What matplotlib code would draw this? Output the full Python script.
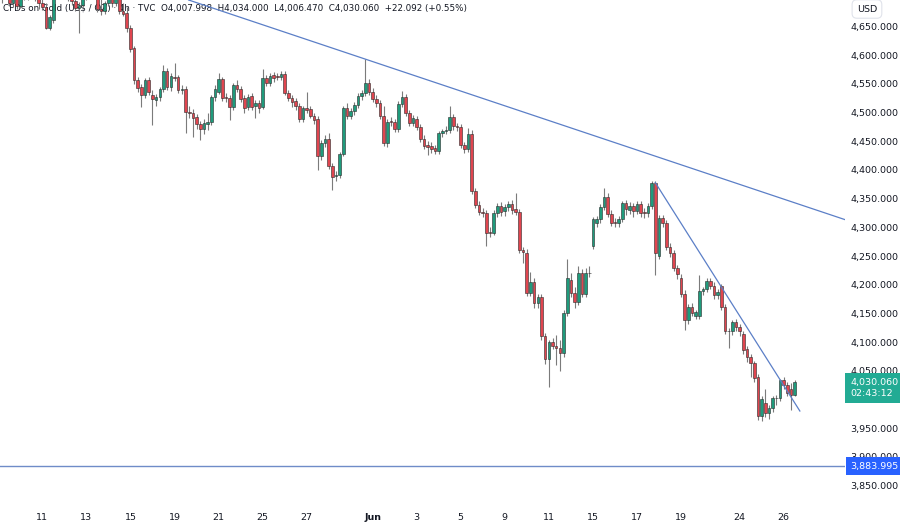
import numpy as np
import matplotlib
matplotlib.use("Agg")
import matplotlib.pyplot as plt
from matplotlib.transforms import blended_transform_factory

# 4h candles, CFDs on Gold (US$ / OZ): open, high, low, close
opens = [4700, 4706, 4701, 4690, 4700, 4686, 4710, 4700, 4712, 4705,
         4698, 4690, 4684, 4648, 4662, 4710, 4716, 4705, 4712, 4700,
         4694, 4682, 4688, 4700, 4715, 4708, 4702, 4680, 4676, 4690,
         4700, 4690, 4712, 4677, 4674, 4647, 4612, 4556, 4544, 4530,
         4556, 4530, 4522, 4527, 4541, 4572, 4544, 4562, 4561, 4539,
         4541, 4501, 4499, 4492, 4480, 4471, 4480, 4484, 4527, 4536,
         4558, 4527, 4525, 4509, 4548, 4541, 4525, 4509, 4529, 4511,
         4516, 4510, 4560, 4551, 4565, 4563, 4561, 4567, 4534, 4525,
         4520, 4511, 4489, 4508, 4506, 4494, 4489, 4424, 4447, 4454,
         4407, 4389, 4391, 4428, 4508, 4494, 4502, 4513, 4529, 4534,
         4551, 4536, 4523, 4516, 4494, 4447, 4485, 4483, 4471, 4515,
         4527, 4499, 4482, 4489, 4475, 4454, 4443, 4441, 4438, 4433,
         4464, 4468, 4469, 4492, 4476, 4474, 4443, 4436, 4462, 4363,
         4339, 4327, 4325, 4292, 4290, 4325, 4337, 4328, 4335, 4340,
         4332, 4327, 4260, 4255, 4185, 4205, 4168, 4178, 4110, 4070,
         4100, 4093, 4090, 4081, 4151, 4208, 4185, 4170, 4220, 4184,
         4220, 4267, 4307, 4314, 4335, 4352, 4323, 4309, 4307, 4314,
         4342, 4330, 4337, 4328, 4340, 4327, 4325, 4337, 4377, 4250,
         4316, 4307, 4266, 4255, 4229, 4212, 4184, 4138, 4161, 4145,
         4145, 4189, 4192, 4206, 4198, 4182, 4197, 4161, 4119, 4119,
         4135, 4126, 4114, 4088, 4074, 4063, 4039, 3971, 3994, 3976,
         3985, 4002, 4003, 4034, 4025, 4019, 4007.998]
highs = [4712, 4718, 4710, 4704, 4706, 4718, 4716, 4718, 4720, 4712,
         4706, 4700, 4690, 4670, 4722, 4724, 4722, 4718, 4716, 4708,
         4700, 4692, 4704, 4720, 4722, 4714, 4708, 4698, 4694, 4706,
         4708, 4718, 4716, 4690, 4684, 4652, 4616, 4562, 4550, 4560,
         4562, 4539, 4532, 4545, 4583, 4578, 4568, 4586, 4566, 4548,
         4546, 4512, 4506, 4498, 4486, 4488, 4500, 4530, 4548, 4569,
         4562, 4534, 4530, 4552, 4556, 4546, 4530, 4532, 4534, 4522,
         4522, 4576, 4566, 4568, 4570, 4568, 4572, 4572, 4540, 4530,
         4526, 4516, 4512, 4536, 4512, 4500, 4494, 4452, 4460, 4464,
         4412, 4398, 4432, 4512, 4516, 4508, 4518, 4534, 4540, 4593,
         4558, 4542, 4530, 4522, 4511, 4488, 4492, 4488, 4520, 4537,
         4532, 4504, 4496, 4494, 4480, 4460, 4450, 4448, 4444, 4468,
         4472, 4476, 4511, 4498, 4482, 4480, 4448, 4473, 4470, 4368,
         4346, 4334, 4330, 4300, 4330, 4342, 4344, 4340, 4346, 4348,
         4360, 4332, 4266, 4262, 4222, 4212, 4184, 4184, 4116, 4104,
         4108, 4112, 4104, 4156, 4245, 4220, 4196, 4232, 4228, 4230,
         4232, 4318, 4320, 4340, 4368, 4360, 4330, 4316, 4320, 4346,
         4348, 4344, 4342, 4346, 4346, 4334, 4342, 4381, 4380, 4322,
         4322, 4312, 4272, 4260, 4234, 4218, 4190, 4166, 4168, 4156,
         4217, 4196, 4212, 4212, 4204, 4192, 4202, 4166, 4124, 4138,
         4140, 4132, 4120, 4094, 4080, 4068, 4044, 4006, 4018, 3990,
         4006, 4008, 4036, 4040, 4030, 4028, 4034.0]
lows = [4690, 4698, 4686, 4684, 4680, 4682, 4696, 4696, 4702, 4694,
        4680, 4678, 4645, 4644, 4656, 4702, 4698, 4700, 4694, 4688,
        4676, 4638, 4684, 4696, 4702, 4698, 4675, 4670, 4672, 4686,
        4684, 4686, 4672, 4668, 4640, 4605, 4550, 4536, 4509, 4526,
        4530, 4478, 4512, 4520, 4536, 4540, 4538, 4555, 4534, 4532,
        4464, 4490, 4457, 4472, 4452, 4462, 4470, 4478, 4520, 4532,
        4520, 4518, 4487, 4504, 4536, 4518, 4500, 4504, 4504, 4490,
        4500, 4506, 4546, 4546, 4554, 4556, 4556, 4530, 4520, 4510,
        4504, 4484, 4484, 4500, 4490, 4480, 4400, 4418, 4440, 4402,
        4365, 4380, 4386, 4424, 4488, 4488, 4496, 4508, 4522, 4528,
        4530, 4518, 4510, 4488, 4442, 4440, 4476, 4466, 4466, 4510,
        4494, 4476, 4476, 4470, 4448, 4436, 4426, 4430, 4428, 4428,
        4458, 4462, 4464, 4470, 4468, 4438, 4430, 4432, 4358, 4334,
        4322, 4318, 4267, 4284, 4286, 4318, 4320, 4320, 4328, 4324,
        4322, 4255, 4238, 4180, 4180, 4160, 4160, 4104, 4062, 4022,
        4088, 4060, 4050, 4074, 4146, 4178, 4160, 4164, 4178, 4178,
        4214, 4262, 4300, 4308, 4330, 4318, 4302, 4300, 4300, 4310,
        4322, 4324, 4318, 4324, 4318, 4316, 4318, 4332, 4217, 4244,
        4300, 4260, 4248, 4224, 4210, 4178, 4121, 4132, 4146, 4140,
        4140, 4182, 4188, 4192, 4176, 4176, 4156, 4114, 4090, 4112,
        4120, 4110, 4080, 4066, 4040, 4030, 3964, 3962, 3970, 3966,
        3978, 3990, 3998, 4018, 4006, 3982, 4006.47]
closes = [4706, 4701, 4690, 4700, 4686, 4710, 4700, 4712, 4705, 4698,
          4690, 4684, 4648, 4666, 4710, 4716, 4705, 4712, 4700, 4694,
          4682, 4688, 4700, 4715, 4708, 4702, 4680, 4676, 4690, 4700,
          4690, 4712, 4676, 4672, 4647, 4610, 4556, 4542, 4530, 4556,
          4536, 4523, 4527, 4541, 4572, 4544, 4563, 4560, 4539, 4541,
          4501, 4499, 4490, 4480, 4471, 4482, 4484, 4527, 4541, 4558,
          4525, 4525, 4509, 4548, 4541, 4523, 4508, 4527, 4509, 4516,
          4508, 4560, 4551, 4563, 4560, 4561, 4567, 4534, 4525, 4518,
          4511, 4489, 4508, 4504, 4494, 4487, 4424, 4447, 4454, 4407,
          4387, 4391, 4428, 4508, 4494, 4502, 4513, 4529, 4534, 4551,
          4536, 4523, 4516, 4494, 4447, 4483, 4483, 4471, 4515, 4527,
          4499, 4482, 4490, 4475, 4454, 4441, 4440, 4436, 4433, 4464,
          4468, 4470, 4492, 4476, 4474, 4443, 4436, 4462, 4363, 4339,
          4327, 4325, 4290, 4290, 4325, 4337, 4327, 4335, 4340, 4330,
          4327, 4260, 4257, 4185, 4205, 4168, 4178, 4110, 4070, 4100,
          4093, 4090, 4081, 4151, 4212, 4185, 4170, 4220, 4184, 4220,
          4221, 4314, 4314, 4335, 4352, 4323, 4307, 4307, 4314, 4342,
          4332, 4337, 4328, 4340, 4325, 4325, 4337, 4377, 4255, 4316,
          4307, 4266, 4255, 4229, 4218, 4184, 4138, 4161, 4151, 4152,
          4189, 4192, 4206, 4198, 4182, 4187, 4161, 4119, 4119, 4135,
          4126, 4119, 4086, 4074, 4063, 4037, 3971, 4001, 3976, 3985,
          4002, 4003, 4034, 4025, 4012, 4008, 4030.06]

# date axis: candle index of each day label
date_ticks = [11, 23, 35, 47, 59, 71, 83, 101, 113, 125, 137, 149, 161, 173, 185, 201, 213]
date_labels = ["11", "13", "15", "19", "21", "25", "27", "Jun", "3", "5",
               "9", "11", "15", "17", "19", "24", "26"]

price_ticks = list(range(3850, 4651, 50))
hidden_tick = 4000  # sits behind the last-price label

# drawings: two falling trendlines and a horizontal support
trend1_idx = [99, 178]
trend1_px = [4593, 4424]
trend2_idx = [178, 217.4]
trend2_px = [4378, 3980]
support = 3883.995
last_price = 4030.06
countdown = "02:43:12"

up_col = "#1f9b7c"
down_col = "#e0454f"
line_col = "#5b7fc7"

fig = plt.figure(figsize=(9, 5.28), dpi=100)
ax = fig.add_axes([0, 28 / 528, 845 / 900, 500 / 528])

idx = np.arange(len(opens))
o = np.array(opens)
c = np.array(closes)
h = np.array(highs)
l = np.array(lows)
cols = np.where(c >= o, up_col, down_col)
body = np.maximum(np.abs(c - o), 1.2)

ax.vlines(idx, l, h, color="#7b7b7b", lw=0.8, zorder=2)
ax.bar(idx, body, bottom=np.minimum(o, c), width=0.72, color=cols,
       edgecolor="#2a2a2a", linewidth=0.4, zorder=3)

ax.axline((trend1_idx[0], trend1_px[0]), (trend1_idx[1], trend1_px[1]),
          color=line_col, lw=0.9, zorder=4)
ax.plot(trend2_idx, trend2_px, color=line_col, lw=0.9, zorder=4)
ax.axhline(support, color="#6f8cc8", lw=1.0, zorder=1)

ax.set_xlim(-0.55, 229.7)
ax.set_ylim(3825, 4696)

for s in ax.spines.values():
    s.set_visible(False)

ax.set_xticks(date_ticks)
ax.set_xticklabels(date_labels)
for lab in ax.get_xticklabels():
    if lab.get_text() == "Jun":
        lab.set_fontweight("bold")
ax.tick_params(axis="x", length=0, pad=9.5, labelsize=6.8, colors="#131722")

ax.yaxis.tick_right()
ax.set_yticks(price_ticks)
ax.set_yticklabels(["" if p == hidden_tick else f"{p:,.3f}" for p in price_ticks])
ax.tick_params(axis="y", length=0, pad=3.8, labelsize=6.8, colors="#131722")

# title / legend line
ax.text(0.004, 0.984,
        "CFDs on Gold (US$ / OZ) · 4h · TVC  O4,007.998  H4,034.000  L4,006.470  C4,030.060  +22.092 (+0.55%)",
        transform=ax.transAxes, ha="left", va="center", fontsize=6.3,
        color="#131722", zorder=1)

tr = blended_transform_factory(ax.transAxes, ax.transData)
ax.annotate(f"{last_price:,.3f}\n{countdown}", xy=(1.0065, last_price), xycoords=tr,
            xytext=(0, 3), textcoords="offset points",
            ha="left", va="top", fontsize=6.8, color="white", linespacing=1.25,
            annotation_clip=False, zorder=10,
            bbox=dict(boxstyle="square,pad=0.55", fc="#22ab94", ec="none"))
ax.text(1.0065, support, f"{support:,.3f}", transform=tr,
        ha="left", va="center", fontsize=6.8, color="white",
        clip_on=False, zorder=10,
        bbox=dict(boxstyle="square,pad=0.45", fc="#2962ff", ec="none"))

ax.text(1.014, 0.982, "USD", transform=ax.transAxes, ha="left", va="center",
        fontsize=6.8, color="#131722", clip_on=False,
        bbox=dict(boxstyle="round,pad=0.5", fc="white", ec="#e0e3eb", lw=0.8))

fig.savefig("out.png", dpi=100)
